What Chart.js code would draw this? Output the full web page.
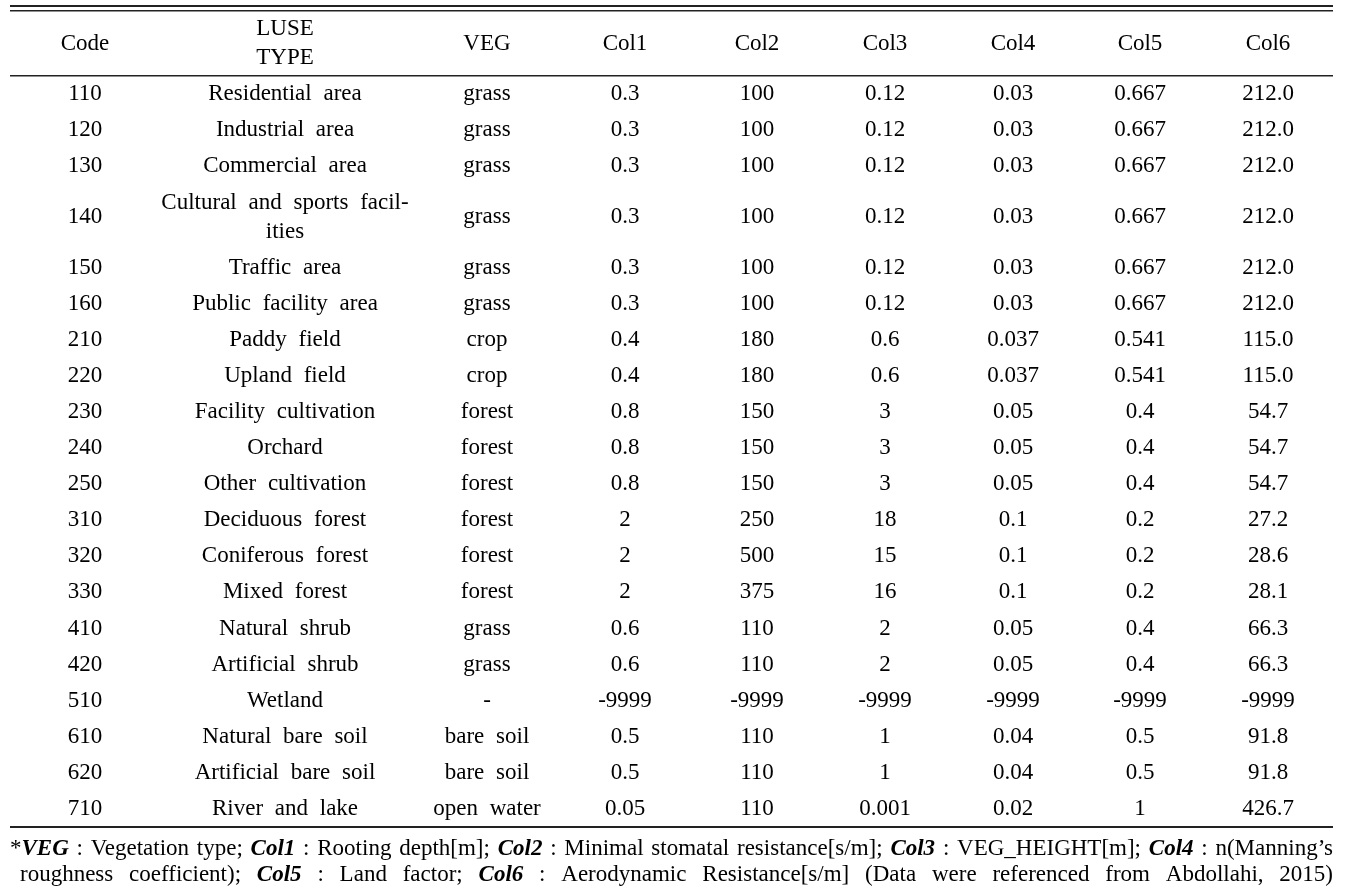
<!DOCTYPE html>
<html>
<head>
<meta charset="utf-8">
<title>Land use parameters</title>
<script src="https://cdn.jsdelivr.net/npm/chart.js@4.4.1/dist/chart.umd.min.js"></script>
<style>
    html, body { margin: 0; padding: 0; background: #fff; }
    #wrap { position: relative; width: 1353px; height: 894px; }
</style>
</head>
<body>
<div id="wrap"><canvas id="tableChart"></canvas></div>
<script>
// ---- table content ----
const headers = ['Code', 'LUSE\nTYPE', 'VEG', 'Col1', 'Col2', 'Col3', 'Col4', 'Col5', 'Col6'];

const codes = ['110', '120', '130', '140', '150', '160', '210', '220', '230', '240',
    '250', '310', '320', '330', '410', '420', '510', '610', '620', '710'];

const luseTypes = ['Residential area', 'Industrial area', 'Commercial area',
    'Cultural and sports facil-\nities', 'Traffic area', 'Public facility area',
    'Paddy field', 'Upland field', 'Facility cultivation', 'Orchard', 'Other cultivation',
    'Deciduous forest', 'Coniferous forest', 'Mixed forest', 'Natural shrub',
    'Artificial shrub', 'Wetland', 'Natural bare soil', 'Artificial bare soil', 'River and lake'];

const vegTypes = ['grass', 'grass', 'grass', 'grass', 'grass', 'grass', 'crop', 'crop',
    'forest', 'forest', 'forest', 'forest', 'forest', 'forest', 'grass', 'grass', '-',
    'bare soil', 'bare soil', 'open water'];

const col1 = ['0.3', '0.3', '0.3', '0.3', '0.3', '0.3', '0.4', '0.4', '0.8', '0.8',
    '0.8', '2', '2', '2', '0.6', '0.6', '-9999', '0.5', '0.5', '0.05'];
const col2 = ['100', '100', '100', '100', '100', '100', '180', '180', '150', '150',
    '150', '250', '500', '375', '110', '110', '-9999', '110', '110', '110'];
const col3 = ['0.12', '0.12', '0.12', '0.12', '0.12', '0.12', '0.6', '0.6', '3', '3',
    '3', '18', '15', '16', '2', '2', '-9999', '1', '1', '0.001'];
const col4 = ['0.03', '0.03', '0.03', '0.03', '0.03', '0.03', '0.037', '0.037', '0.05', '0.05',
    '0.05', '0.1', '0.1', '0.1', '0.05', '0.05', '-9999', '0.04', '0.04', '0.02'];
const col5 = ['0.667', '0.667', '0.667', '0.667', '0.667', '0.667', '0.541', '0.541', '0.4', '0.4',
    '0.4', '0.2', '0.2', '0.2', '0.4', '0.4', '-9999', '0.5', '0.5', '1'];
const col6 = ['212.0', '212.0', '212.0', '212.0', '212.0', '212.0', '115.0', '115.0', '54.7', '54.7',
    '54.7', '27.2', '28.6', '28.1', '66.3', '66.3', '-9999', '91.8', '91.8', '426.7'];

// {..} marks bold italic words
const footnoteLines = [
    '*{VEG} : Vegetation type; {Col1} : Rooting depth[m]; {Col2} : Minimal stomatal resistance[s/m]; {Col3} : VEG_HEIGHT[m]; {Col4} : n(Manning\u2019s',
    'roughness coefficient); {Col5} : Land factor; {Col6} : Aerodynamic Resistance[s/m] (Data were referenced from Abdollahi, 2015)'
];

const columns = [codes, luseTypes, vegTypes, col1, col2, col3, col4, col5, col6];

// ---- layout (scale units) ----
const TABLE_WIDTH = 1323;
const colCenters = [75, 275, 477, 615, 747, 875, 1003, 1130, 1258];
const DOUBLE_GAP = 5;
const HEADER_BOTTOM = 70;
const ROW_HEIGHT = 36;
const LINE_STEP = 29;

const rowCenters = [];
let acc = HEADER_BOTTOM;
luseTypes.forEach(t => {
    const h = ROW_HEIGHT + LINE_STEP * (t.split('\n').length - 1);
    rowCenters.push(acc + h / 2);
    acc += h;
});
const TABLE_BOTTOM = acc;
const ruleValues = [0, DOUBLE_GAP, HEADER_BOTTOM, TABLE_BOTTOM];
const ruleWidths = [2, 1.5, 1.5, 2];

const CELL_FONT = '23px "Liberation Serif", "Times New Roman", serif';
const NOTE_FONT = '23px "Liberation Serif", "Times New Roman", serif';
const NOTE_BOLD = 'italic bold 23px "Liberation Serif", "Times New Roman", serif';

function drawLines(ctx, text, x, y, step) {
    const lines = text.split('\n');
    lines.forEach((ln, i) => {
        ctx.fillText(ln, x, y + (i - (lines.length - 1) / 2) * step);
    });
}

function parseWord(word) {
    const runs = [];
    const re = /\{([^}]*)\}|([^{]+)/g;
    let m;
    while ((m = re.exec(word)) !== null) {
        if (m[1] !== undefined) runs.push([m[1], NOTE_BOLD]);
        else runs.push([m[2], NOTE_FONT]);
    }
    return runs;
}

// justified line with mixed fonts, squeezed a little if it does not fit
function drawJustified(ctx, line, left, right, y) {
    const minGap = 5;
    const words = line.split(' ').map(parseWord);
    const widths = words.map(runs => runs.reduce((s, [t, f]) => { ctx.font = f; return s + ctx.measureText(t).width; }, 0));
    const total = widths.reduce((a, b) => a + b, 0);
    const gaps = words.length - 1;
    const sx = Math.min(1, (right - left - gaps * minGap) / total);
    const gap = (right - left - total * sx) / gaps;
    let x = left;
    words.forEach(runs => {
        runs.forEach(([t, f]) => {
            ctx.font = f;
            ctx.save();
            ctx.translate(x, y);
            ctx.scale(sx, 1);
            ctx.fillText(t, 0, 0);
            ctx.restore();
            x += ctx.measureText(t).width * sx;
        });
        x += gap;
    });
}

const tableTextPlugin = {
    id: 'tableText',
    afterDatasetsDraw(chart) {
        const { ctx, scales: { x, y }, chartArea } = chart;
        const step = Math.abs(y.getPixelForValue(LINE_STEP) - y.getPixelForValue(0));
        ctx.save();
        ctx.fillStyle = '#000';
        ctx.textAlign = 'center';
        ctx.textBaseline = 'middle';
        ctx.font = CELL_FONT;
        if ('wordSpacing' in ctx) ctx.wordSpacing = '6px';

        const headerMid = y.getPixelForValue((DOUBLE_GAP + HEADER_BOTTOM) / 2);
        headers.forEach((h, c) => drawLines(ctx, h, x.getPixelForValue(colCenters[c]), headerMid, step));

        chart.data.datasets.forEach((ds, c) => {
            chart.getDatasetMeta(c).data.forEach((pt, r) => drawLines(ctx, ds.cellText[r], pt.x, pt.y, step));
        });

        // footnote under the table
        if ('wordSpacing' in ctx) ctx.wordSpacing = '0px';
        ctx.textAlign = 'left';
        drawJustified(ctx, footnoteLines[0], chartArea.left, chartArea.right, chartArea.bottom + 22);
        drawJustified(ctx, footnoteLines[1], chartArea.left + 10, chartArea.right, chartArea.bottom + 48);
        ctx.restore();
    }
};

const datasets = columns.map((vals, c) => ({
    label: headers[c],
    cellText: vals,
    data: vals.map((v, r) => ({ x: colCenters[c], y: rowCenters[r] })),
    pointRadius: 0,
    pointHoverRadius: 0,
    showLine: false
}));

new Chart(document.getElementById('tableChart'), {
    type: 'scatter',
    data: { datasets: datasets },
    options: {
        responsive: true,
        maintainAspectRatio: false,
        animation: false,
        events: [],
        layout: { padding: { left: 10, right: 20, top: 6, bottom: 67 } },
        plugins: { legend: { display: false }, tooltip: { enabled: false } },
        scales: {
            x: { type: 'linear', display: false, min: 0, max: TABLE_WIDTH },
            y: {
                type: 'linear',
                reverse: true,
                min: 0,
                max: TABLE_BOTTOM,
                afterBuildTicks: scale => { scale.ticks = ruleValues.map(v => ({ value: v })); },
                ticks: { display: false },
                grid: { color: '#222', lineWidth: c => ruleWidths[c.index] || 1, drawTicks: false },
                border: { display: false }
            }
        }
    },
    plugins: [tableTextPlugin]
});
</script>
</body>
</html>
